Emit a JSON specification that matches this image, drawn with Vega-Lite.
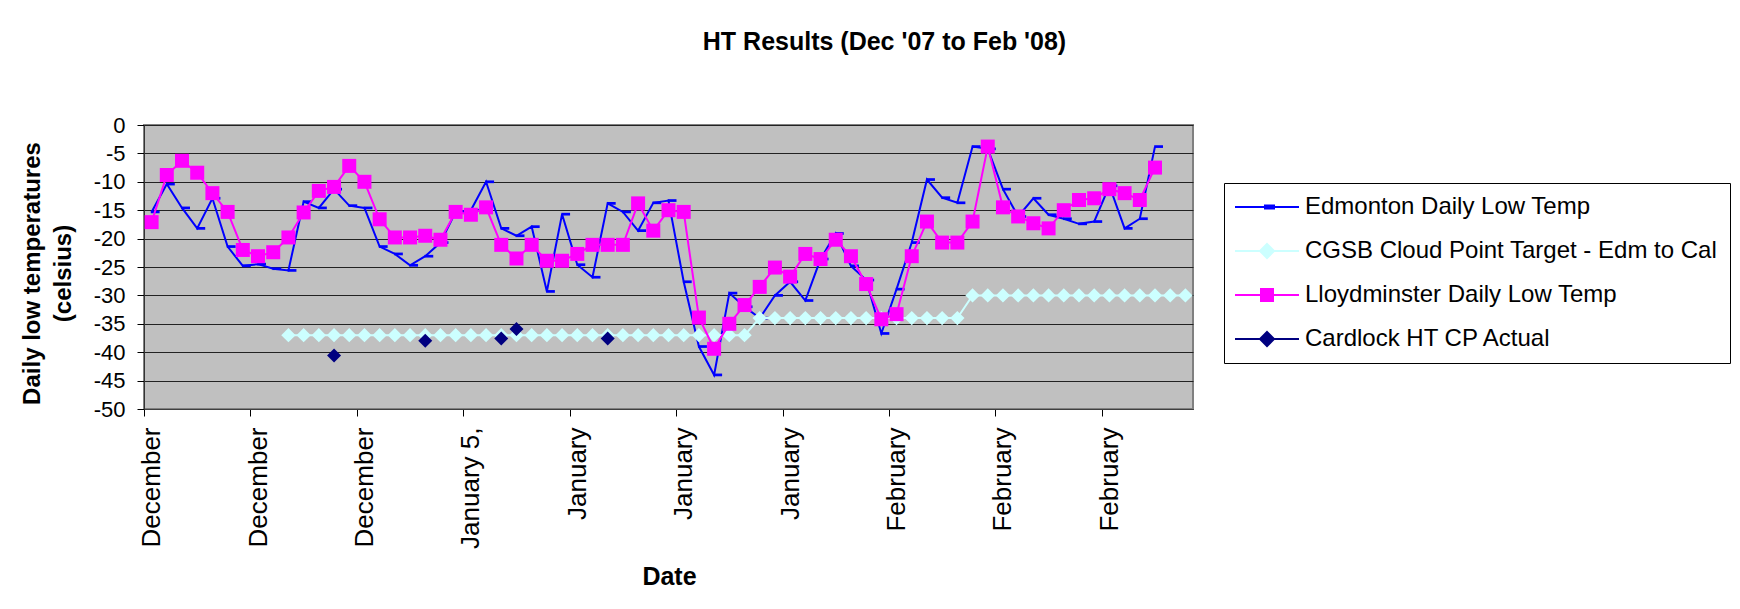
{
"$schema": "https://vega.github.io/schema/vega-lite/v6.json",
"width": 1049, "height": 284,
"autosize": {"type": "none"},
"padding": {"left": 144, "top": 125, "right": 547, "bottom": 200},
"background": "white",
"title": {"text": "HT Results (Dec '07 to Feb '08)", "font": "Liberation Sans", "fontSize": 25, "fontWeight": "bold", "color": "black", "anchor": "middle", "dx": 216, "offset": 39, "baseline": "alphabetic"},
"config": {
  "font": "Liberation Sans",
  "view": {"fill": "#C0C0C0", "stroke": "#808080", "strokeWidth": 2},
  "legend": {"padding": 12, "strokeColor": "black", "fillColor": "white", "labelFont": "Liberation Sans", "labelFontSize": 24, "labelColor": "black", "labelLimit": 0, "labelOffset": 26, "symbolOffset": 19, "symbolSize": 400, "symbolStrokeWidth": 2, "symbolOpacity": 1, "rowPadding": 20, "cornerRadius": 0}
},
"data": {"values": [
{"date":"2007-12-15","series":"Edmonton","temp":-15.3},{"date":"2007-12-16","series":"Edmonton","temp":-10.4},{"date":"2007-12-17","series":"Edmonton","temp":-14.6},{"date":"2007-12-18","series":"Edmonton","temp":-18.2},{"date":"2007-12-19","series":"Edmonton","temp":-12.9},{"date":"2007-12-20","series":"Edmonton","temp":-21.4},{"date":"2007-12-21","series":"Edmonton","temp":-24.8},{"date":"2007-12-22","series":"Edmonton","temp":-24.5},{"date":"2007-12-23","series":"Edmonton","temp":-25.3},{"date":"2007-12-24","series":"Edmonton","temp":-25.6},{"date":"2007-12-25","series":"Edmonton","temp":-13.5},{"date":"2007-12-26","series":"Edmonton","temp":-14.6},{"date":"2007-12-27","series":"Edmonton","temp":-11.3},{"date":"2007-12-28","series":"Edmonton","temp":-14.2},{"date":"2007-12-29","series":"Edmonton","temp":-14.6},{"date":"2007-12-30","series":"Edmonton","temp":-21.4},{"date":"2007-12-31","series":"Edmonton","temp":-22.7},
{"date":"2008-01-01","series":"Edmonton","temp":-24.7},{"date":"2008-01-02","series":"Edmonton","temp":-23.1},{"date":"2008-01-03","series":"Edmonton","temp":-20.7},{"date":"2008-01-04","series":"Edmonton","temp":-15.3},{"date":"2008-01-05","series":"Edmonton","temp":-15.0},{"date":"2008-01-06","series":"Edmonton","temp":-10.0},{"date":"2008-01-07","series":"Edmonton","temp":-18.2},{"date":"2008-01-08","series":"Edmonton","temp":-19.5},{"date":"2008-01-09","series":"Edmonton","temp":-17.9},{"date":"2008-01-10","series":"Edmonton","temp":-29.3},{"date":"2008-01-11","series":"Edmonton","temp":-15.7},{"date":"2008-01-12","series":"Edmonton","temp":-24.6},{"date":"2008-01-13","series":"Edmonton","temp":-26.8},{"date":"2008-01-14","series":"Edmonton","temp":-13.8},{"date":"2008-01-15","series":"Edmonton","temp":-15.3},{"date":"2008-01-16","series":"Edmonton","temp":-18.6},{"date":"2008-01-17","series":"Edmonton","temp":-13.7},{"date":"2008-01-18","series":"Edmonton","temp":-13.3},{"date":"2008-01-19","series":"Edmonton","temp":-27.6},{"date":"2008-01-20","series":"Edmonton","temp":-39.0},{"date":"2008-01-21","series":"Edmonton","temp":-44.0},{"date":"2008-01-22","series":"Edmonton","temp":-29.6},{"date":"2008-01-23","series":"Edmonton","temp":-32.0},{"date":"2008-01-24","series":"Edmonton","temp":-34.0},{"date":"2008-01-25","series":"Edmonton","temp":-30.0},{"date":"2008-01-26","series":"Edmonton","temp":-27.6},{"date":"2008-01-27","series":"Edmonton","temp":-30.9},{"date":"2008-01-28","series":"Edmonton","temp":-23.6},{"date":"2008-01-29","series":"Edmonton","temp":-19.1},{"date":"2008-01-30","series":"Edmonton","temp":-24.8},{"date":"2008-01-31","series":"Edmonton","temp":-27.3},
{"date":"2008-02-01","series":"Edmonton","temp":-36.7},{"date":"2008-02-02","series":"Edmonton","temp":-28.9},{"date":"2008-02-03","series":"Edmonton","temp":-20.7},{"date":"2008-02-04","series":"Edmonton","temp":-9.6},{"date":"2008-02-05","series":"Edmonton","temp":-12.8},{"date":"2008-02-06","series":"Edmonton","temp":-13.7},{"date":"2008-02-07","series":"Edmonton","temp":-3.8},{"date":"2008-02-08","series":"Edmonton","temp":-4.2},{"date":"2008-02-09","series":"Edmonton","temp":-11.3},{"date":"2008-02-10","series":"Edmonton","temp":-16.1},{"date":"2008-02-11","series":"Edmonton","temp":-12.9},{"date":"2008-02-12","series":"Edmonton","temp":-15.8},{"date":"2008-02-13","series":"Edmonton","temp":-16.5},{"date":"2008-02-14","series":"Edmonton","temp":-17.4},{"date":"2008-02-15","series":"Edmonton","temp":-17.0},{"date":"2008-02-16","series":"Edmonton","temp":-10.7},{"date":"2008-02-17","series":"Edmonton","temp":-18.2},{"date":"2008-02-18","series":"Edmonton","temp":-16.5},{"date":"2008-02-19","series":"Edmonton","temp":-3.8},
{"date":"2007-12-15","series":"Lloydminster","temp":-17.1},{"date":"2007-12-16","series":"Lloydminster","temp":-8.8},{"date":"2007-12-17","series":"Lloydminster","temp":-6.3},{"date":"2007-12-18","series":"Lloydminster","temp":-8.4},{"date":"2007-12-19","series":"Lloydminster","temp":-12.0},{"date":"2007-12-20","series":"Lloydminster","temp":-15.3},{"date":"2007-12-21","series":"Lloydminster","temp":-22.0},{"date":"2007-12-22","series":"Lloydminster","temp":-23.1},{"date":"2007-12-23","series":"Lloydminster","temp":-22.4},{"date":"2007-12-24","series":"Lloydminster","temp":-19.8},{"date":"2007-12-25","series":"Lloydminster","temp":-15.4},{"date":"2007-12-26","series":"Lloydminster","temp":-11.6},{"date":"2007-12-27","series":"Lloydminster","temp":-10.9},{"date":"2007-12-28","series":"Lloydminster","temp":-7.2},{"date":"2007-12-29","series":"Lloydminster","temp":-10.0},{"date":"2007-12-30","series":"Lloydminster","temp":-16.6},{"date":"2007-12-31","series":"Lloydminster","temp":-19.8},
{"date":"2008-01-01","series":"Lloydminster","temp":-19.8},{"date":"2008-01-02","series":"Lloydminster","temp":-19.5},{"date":"2008-01-03","series":"Lloydminster","temp":-20.2},{"date":"2008-01-04","series":"Lloydminster","temp":-15.3},{"date":"2008-01-05","series":"Lloydminster","temp":-15.8},{"date":"2008-01-06","series":"Lloydminster","temp":-14.5},{"date":"2008-01-07","series":"Lloydminster","temp":-21.1},{"date":"2008-01-08","series":"Lloydminster","temp":-23.5},{"date":"2008-01-09","series":"Lloydminster","temp":-21.1},{"date":"2008-01-10","series":"Lloydminster","temp":-23.9},{"date":"2008-01-11","series":"Lloydminster","temp":-23.9},{"date":"2008-01-12","series":"Lloydminster","temp":-22.7},{"date":"2008-01-13","series":"Lloydminster","temp":-21.1},{"date":"2008-01-14","series":"Lloydminster","temp":-21.1},{"date":"2008-01-15","series":"Lloydminster","temp":-21.1},{"date":"2008-01-16","series":"Lloydminster","temp":-13.8},{"date":"2008-01-17","series":"Lloydminster","temp":-18.6},{"date":"2008-01-18","series":"Lloydminster","temp":-15.0},{"date":"2008-01-19","series":"Lloydminster","temp":-15.3},{"date":"2008-01-20","series":"Lloydminster","temp":-33.9},{"date":"2008-01-21","series":"Lloydminster","temp":-39.4},{"date":"2008-01-22","series":"Lloydminster","temp":-35.0},{"date":"2008-01-23","series":"Lloydminster","temp":-31.7},{"date":"2008-01-24","series":"Lloydminster","temp":-28.5},{"date":"2008-01-25","series":"Lloydminster","temp":-25.1},{"date":"2008-01-26","series":"Lloydminster","temp":-26.7},{"date":"2008-01-27","series":"Lloydminster","temp":-22.7},{"date":"2008-01-28","series":"Lloydminster","temp":-23.6},{"date":"2008-01-29","series":"Lloydminster","temp":-20.2},{"date":"2008-01-30","series":"Lloydminster","temp":-23.1},{"date":"2008-01-31","series":"Lloydminster","temp":-28.0},
{"date":"2008-02-01","series":"Lloydminster","temp":-34.2},{"date":"2008-02-02","series":"Lloydminster","temp":-33.3},{"date":"2008-02-03","series":"Lloydminster","temp":-23.1},{"date":"2008-02-04","series":"Lloydminster","temp":-17.0},{"date":"2008-02-05","series":"Lloydminster","temp":-20.7},{"date":"2008-02-06","series":"Lloydminster","temp":-20.7},{"date":"2008-02-07","series":"Lloydminster","temp":-17.0},{"date":"2008-02-08","series":"Lloydminster","temp":-3.8},{"date":"2008-02-09","series":"Lloydminster","temp":-14.5},{"date":"2008-02-10","series":"Lloydminster","temp":-16.1},{"date":"2008-02-11","series":"Lloydminster","temp":-17.3},{"date":"2008-02-12","series":"Lloydminster","temp":-18.2},{"date":"2008-02-13","series":"Lloydminster","temp":-15.0},{"date":"2008-02-14","series":"Lloydminster","temp":-13.2},{"date":"2008-02-15","series":"Lloydminster","temp":-12.9},{"date":"2008-02-16","series":"Lloydminster","temp":-11.3},{"date":"2008-02-17","series":"Lloydminster","temp":-12.0},{"date":"2008-02-18","series":"Lloydminster","temp":-13.2},{"date":"2008-02-19","series":"Lloydminster","temp":-7.5},
{"date":"2007-12-24","series":"CGSB","temp":-37},{"date":"2007-12-25","series":"CGSB","temp":-37},{"date":"2007-12-26","series":"CGSB","temp":-37},{"date":"2007-12-27","series":"CGSB","temp":-37},{"date":"2007-12-28","series":"CGSB","temp":-37},{"date":"2007-12-29","series":"CGSB","temp":-37},{"date":"2007-12-30","series":"CGSB","temp":-37},{"date":"2007-12-31","series":"CGSB","temp":-37},
{"date":"2008-01-01","series":"CGSB","temp":-37},{"date":"2008-01-02","series":"CGSB","temp":-37},{"date":"2008-01-03","series":"CGSB","temp":-37},{"date":"2008-01-04","series":"CGSB","temp":-37},{"date":"2008-01-05","series":"CGSB","temp":-37},{"date":"2008-01-06","series":"CGSB","temp":-37},{"date":"2008-01-07","series":"CGSB","temp":-37},{"date":"2008-01-08","series":"CGSB","temp":-37},{"date":"2008-01-09","series":"CGSB","temp":-37},{"date":"2008-01-10","series":"CGSB","temp":-37},{"date":"2008-01-11","series":"CGSB","temp":-37},{"date":"2008-01-12","series":"CGSB","temp":-37},{"date":"2008-01-13","series":"CGSB","temp":-37},{"date":"2008-01-14","series":"CGSB","temp":-37},{"date":"2008-01-15","series":"CGSB","temp":-37},{"date":"2008-01-16","series":"CGSB","temp":-37},{"date":"2008-01-17","series":"CGSB","temp":-37},{"date":"2008-01-18","series":"CGSB","temp":-37},{"date":"2008-01-19","series":"CGSB","temp":-37},{"date":"2008-01-20","series":"CGSB","temp":-37},{"date":"2008-01-21","series":"CGSB","temp":-37},{"date":"2008-01-22","series":"CGSB","temp":-37},{"date":"2008-01-23","series":"CGSB","temp":-37},
{"date":"2008-01-24","series":"CGSB","temp":-34},{"date":"2008-01-25","series":"CGSB","temp":-34},{"date":"2008-01-26","series":"CGSB","temp":-34},{"date":"2008-01-27","series":"CGSB","temp":-34},{"date":"2008-01-28","series":"CGSB","temp":-34},{"date":"2008-01-29","series":"CGSB","temp":-34},{"date":"2008-01-30","series":"CGSB","temp":-34},{"date":"2008-01-31","series":"CGSB","temp":-34},{"date":"2008-02-01","series":"CGSB","temp":-34},{"date":"2008-02-02","series":"CGSB","temp":-34},{"date":"2008-02-03","series":"CGSB","temp":-34},{"date":"2008-02-04","series":"CGSB","temp":-34},{"date":"2008-02-05","series":"CGSB","temp":-34},{"date":"2008-02-06","series":"CGSB","temp":-34},
{"date":"2008-02-07","series":"CGSB","temp":-30},{"date":"2008-02-08","series":"CGSB","temp":-30},{"date":"2008-02-09","series":"CGSB","temp":-30},{"date":"2008-02-10","series":"CGSB","temp":-30},{"date":"2008-02-11","series":"CGSB","temp":-30},{"date":"2008-02-12","series":"CGSB","temp":-30},{"date":"2008-02-13","series":"CGSB","temp":-30},{"date":"2008-02-14","series":"CGSB","temp":-30},{"date":"2008-02-15","series":"CGSB","temp":-30},{"date":"2008-02-16","series":"CGSB","temp":-30},{"date":"2008-02-17","series":"CGSB","temp":-30},{"date":"2008-02-18","series":"CGSB","temp":-30},{"date":"2008-02-19","series":"CGSB","temp":-30},{"date":"2008-02-20","series":"CGSB","temp":-30},{"date":"2008-02-21","series":"CGSB","temp":-30},
{"date":"2007-12-27","series":"Cardlock","temp":-40.6},{"date":"2008-01-02","series":"Cardlock","temp":-38.0},{"date":"2008-01-07","series":"Cardlock","temp":-37.6},{"date":"2008-01-08","series":"Cardlock","temp":-35.9},{"date":"2008-01-14","series":"Cardlock","temp":-37.6}
]},
"encoding": {
  "x": {"field": "date", "type": "temporal",
    "scale": {"type": "utc", "domain": [{"year": 2007, "month": 12, "date": 14, "hours": 12, "utc": true}, {"year": 2008, "month": 2, "date": 21, "hours": 12, "utc": true}]},
    "axis": {
      "values": [{"year": 2007, "month": 12, "date": 15, "utc": true}, {"year": 2007, "month": 12, "date": 22, "utc": true}, {"year": 2007, "month": 12, "date": 29, "utc": true}, {"year": 2008, "month": 1, "date": 5, "utc": true}, {"year": 2008, "month": 1, "date": 12, "utc": true}, {"year": 2008, "month": 1, "date": 19, "utc": true}, {"year": 2008, "month": 1, "date": 26, "utc": true}, {"year": 2008, "month": 2, "date": 2, "utc": true}, {"year": 2008, "month": 2, "date": 9, "utc": true}, {"year": 2008, "month": 2, "date": 16, "utc": true}],
      "labelExpr": "utcFormat(datum.value, '%B') + (utcdate(datum.value) == 5 ? ' 5,' : '')",
      "labelAngle": 270, "labelAlign": "right", "labelBaseline": "middle",
      "labelFont": "Liberation Sans", "labelFontSize": 26, "labelColor": "black",
      "labelPadding": 11, "labelOverlap": false, "labelFlush": false, "labelBound": false,
      "tickSize": 7, "tickColor": "black", "tickOffset": -7.6, "labelOffset": 7.6,
      "grid": false, "domainColor": "#404040",
      "title": "Date", "titleFont": "Liberation Sans", "titleFontSize": 25, "titleFontWeight": "bold", "titleColor": "black",
      "titleX": 525, "titleY": 167, "titleAlign": "center", "titleBaseline": "middle"
    }
  },
  "y": {"field": "temp", "type": "quantitative",
    "scale": {"domain": [-50, 0], "nice": false, "zero": false},
    "axis": {
      "values": [0, -5, -10, -15, -20, -25, -30, -35, -40, -45, -50],
      "labelExpr": "'' + datum.value",
      "labelFont": "Liberation Sans", "labelFontSize": 22, "labelColor": "black",
      "labelPadding": 12, "labelFlush": false, "labelOverlap": false,
      "tickSize": 7, "tickColor": "black",
      "grid": true, "gridColor": "#222222", "gridWidth": 1,
      "domainColor": "#333333",
      "title": ["Daily low temperatures", "(celsius)"], "titleFont": "Liberation Sans", "titleFontSize": 24, "titleFontWeight": "bold", "titleColor": "black",
      "titleAngle": 270, "titleX": -112, "titleY": 148, "titleAlign": "center", "titleBaseline": "middle", "titleLineHeight": 31
    }
  }
},
"layer": [
  {"transform": [{"filter": "datum.series == 'Edmonton'"}], "mark": {"type": "line", "color": "#0000FF", "strokeWidth": 2}},
  {"transform": [{"filter": "datum.series == 'Edmonton'"}], "mark": {"type": "point", "shape": "M-0.1,-0.17H1V0.17H-0.1Z", "filled": true, "color": "#0000FF", "size": 256, "opacity": 1}},
  {"transform": [{"filter": "datum.series == 'CGSB'"}], "mark": {"type": "line", "color": "#CCFFFF", "strokeWidth": 2}},
  {"transform": [{"filter": "datum.series == 'CGSB'"}], "mark": {"type": "point", "shape": "diamond", "filled": true, "color": "#CCFFFF", "size": 205, "opacity": 1}},
  {"transform": [{"filter": "datum.series == 'Lloydminster'"}], "mark": {"type": "line", "color": "#FF00FF", "strokeWidth": 2}},
  {"transform": [{"filter": "datum.series == 'Lloydminster'"}], "mark": {"type": "point", "shape": "square", "filled": true, "color": "#FF00FF", "size": 196, "opacity": 1}},
  {"transform": [{"filter": "datum.series == 'Cardlock'"}], "mark": {"type": "point", "shape": "diamond", "filled": true, "color": "#000080", "size": 196, "opacity": 1}},
  {"transform": [{"filter": "false"}],
   "mark": {"type": "point", "filled": true, "strokeWidth": 2, "opacity": 1},
   "encoding": {
     "fill": {"field": "series", "type": "nominal",
       "scale": {"domain": ["Edmonton", "CGSB", "Lloydminster", "Cardlock"], "range": ["#0000FF", "#CCFFFF", "#FF00FF", "#000080"]},
       "legend": {"title": null, "orient": "none", "legendX": 1080, "legendY": 58, "labelExpr": "{'Edmonton': 'Edmonton Daily Low  Temp', 'CGSB': 'CGSB Cloud Point Target - Edm to Cal', 'Lloydminster': 'Lloydminster Daily Low  Temp', 'Cardlock': 'Cardlock HT CP Actual'}[datum.label]"}},
     "stroke": {"field": "series", "type": "nominal",
       "scale": {"domain": ["Edmonton", "CGSB", "Lloydminster", "Cardlock"], "range": ["#0000FF", "#CCFFFF", "#FF00FF", "#000080"]},
       "legend": {"title": null, "orient": "none", "legendX": 1080, "legendY": 58, "labelExpr": "{'Edmonton': 'Edmonton Daily Low  Temp', 'CGSB': 'CGSB Cloud Point Target - Edm to Cal', 'Lloydminster': 'Lloydminster Daily Low  Temp', 'Cardlock': 'Cardlock HT CP Actual'}[datum.label]"}},
     "shape": {"field": "series", "type": "nominal",
       "scale": {"domain": ["Edmonton", "CGSB", "Lloydminster", "Cardlock"], "range": ["M-3.2,0H3.2M-0.2,-0.15H0.7V0.15H-0.2Z", "M-3.2,0H3.2M0,-0.7L0.7,0L0,0.7L-0.7,0Z", "M-3.2,0H3.2M-0.6,-0.6H0.6V0.6H-0.6Z", "M-3.2,0H3.2M0,-0.7L0.7,0L0,0.7L-0.7,0Z"]},
       "legend": {"title": null, "orient": "none", "legendX": 1080, "legendY": 58, "labelExpr": "{'Edmonton': 'Edmonton Daily Low  Temp', 'CGSB': 'CGSB Cloud Point Target - Edm to Cal', 'Lloydminster': 'Lloydminster Daily Low  Temp', 'Cardlock': 'Cardlock HT CP Actual'}[datum.label]"}}
   }
  }
]
}
